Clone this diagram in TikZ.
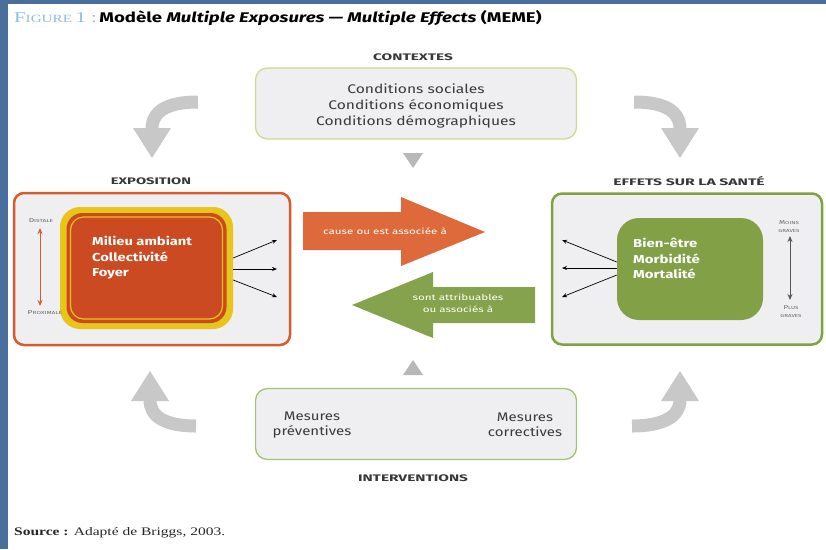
\documentclass[tikz,border=0pt]{standalone}
\usepackage{fontspec}
\usepackage{graphicx}
\setmainfont{Fira Sans}
\newfontfamily\seriffont{Liberation Serif}
\usetikzlibrary{arrows.meta}
\newcommand\hsc[2]{\scalebox{#1}[1]{#2}}
\definecolor{blueb}{HTML}{4A6F9C}
\definecolor{boxfill}{HTML}{EFEFF1}
\definecolor{orangeb}{HTML}{D95A2B}
\definecolor{yellowb}{HTML}{E8C51A}
\definecolor{redfill}{HTML}{CC4A22}
\definecolor{orangearr}{HTML}{DE6A3C}
\definecolor{greenarr}{HTML}{85A34C}
\definecolor{greenb}{HTML}{7FA242}
\definecolor{greenin}{HTML}{82A147}
\definecolor{ctxb}{HTML}{CCDC90}
\definecolor{intb}{HTML}{A3C27A}
\definecolor{grayarr}{HTML}{C8C8C8}
\definecolor{txtgray}{HTML}{3A3A3A}
\definecolor{tri}{HTML}{B8B8B8}
\definecolor{figblue}{HTML}{8DBFE0}
\definecolor{darkarr}{HTML}{555555}
\tikzset{
  label/.style={font=\bfseries\fontsize{9.5}{10}\selectfont, text=black!78, inner sep=0pt},
  topbox/.style={draw, line width=1.3pt, fill=boxfill, rounded corners=12pt, minimum width=321pt, minimum height=71pt, inner sep=0pt},
  boxtext/.style={font=\fontsize{12.5}{16}\selectfont, text=txtgray, align=center, inner sep=0pt},
  outerbox/.style={draw, line width=2.5pt, fill=boxfill, rounded corners=10pt, inner sep=0pt},
  whitetxt/.style={font=\bfseries\fontsize{11.5}{15.5}\selectfont, text=white, align=left, inner sep=0pt},
  arrtxt/.style={font=\fontsize{8.3}{12}\selectfont, text=white, align=center, inner sep=0pt},
  tiny/.style={font=\fontsize{5.6}{8}\selectfont, text=black!60, align=center, inner sep=0pt},
  blk/.style={-{Stealth[length=5pt,width=4pt]}, line width=0.7pt, black},
  curv/.style={grayarr, line width=13pt},
}
\newcommand\smallc{\fontsize{4.4}{8}\selectfont}
\begin{document}
\begin{tikzpicture}[x=1pt,y=-1pt]
\useasboundingbox (0,0) rectangle (826,549);
\fill[white] (0,0) rectangle (826,549);
\fill[blueb] (0,0) rectangle (826,3.5);
\fill[blueb] (0,0) rectangle (8,549);

% title
\node[anchor=west, inner sep=0pt] (title) at (14,18)
  {\hsc{1.38}{\seriffont\color{figblue}{\fontsize{15}{15}\selectfont F}{\fontsize{11}{11}\selectfont IGURE} {\fontsize{15}{15}\selectfont 1 :}}\ %
   \hsc{1.33}{\bfseries\fontsize{14}{14}\selectfont Modèle \textit{Multiple Exposures — Multiple Effects} (MEME)}};

% contextes
\node[label] (lctx) at (413,57) {\hsc{1.62}{CONTEXTES}};
\node[topbox, draw=ctxb] (ctx) at (416,103.5) {};
\node[boxtext] (ctxt) at (416,106) {\hsc{1.25}{Conditions sociales}\\\hsc{1.25}{Conditions économiques}\\\hsc{1.25}{Conditions démographiques}};
\fill[tri] (403,153) -- (423,153) -- (413,168) -- cycle;

% interventions
\fill[tri] (403,375) -- (423,375) -- (413,360) -- cycle;
\node[topbox, draw=intb] (inter) at (416,424) {};
\node[boxtext, font=\fontsize{12.5}{15}\selectfont] (prev) at (312,425) {\hsc{1.2}{Mesures}\\\hsc{1.2}{préventives}};
\node[boxtext, font=\fontsize{12.5}{15}\selectfont] (corr) at (525,425) {\hsc{1.2}{Mesures}\\\hsc{1.2}{correctives}};
\node[label] (lint) at (413,478) {\hsc{1.62}{INTERVENTIONS}};

% curved gray arrows
\draw[curv] (198,102) .. controls (166,102) and (152,112) .. (152,129);
\fill[grayarr] (133,128) -- (171,128) -- (152,158) -- cycle;
\draw[curv] (634,102) .. controls (666,102) and (680,112) .. (680,129);
\fill[grayarr] (661,128) -- (699,128) -- (680,158) -- cycle;
\draw[curv] (196,426) .. controls (164,426) and (150,416) .. (150,400);
\fill[grayarr] (131,401) -- (169,401) -- (150,371) -- cycle;
\draw[curv] (632,426) .. controls (664,426) and (680,416) .. (680,400);
\fill[grayarr] (661,401) -- (699,401) -- (680,371) -- cycle;

% exposition
\node[label] (lexp) at (151,181) {\hsc{1.55}{EXPOSITION}};
\node[outerbox, draw=orangeb, minimum width=276pt, minimum height=152pt] (expo) at (152,269) {};
\node[fill=yellowb, rounded corners=20pt, minimum width=173pt, minimum height=122pt, inner sep=0pt] (yel) at (146.5,268) {};
\node[fill=redfill, rounded corners=16pt, minimum width=160pt, minimum height=110pt, inner sep=0pt] (redr) at (146.5,268) {};
\node[draw=yellowb, line width=1.2pt, rounded corners=13pt, minimum width=152pt, minimum height=102pt, inner sep=0pt] (redin) at (146.5,268) {};
\node[whitetxt, anchor=north west] (milieu) at (92,236) {\hsc{1.28}{Milieu ambiant}\\\hsc{1.28}{Collectivité}\\\hsc{1.28}{Foyer}};
\node[tiny] (dist) at (41,221) {\hsc{1.5}{D\smallc ISTALE}};
\node[tiny] (prox) at (45,313) {\hsc{1.5}{P\smallc ROXIMALE}};
\coordinate (dtop) at (40,228);
\coordinate (dbot) at (40,306);
\draw[orangeb, line width=1pt, {Stealth[length=6pt,width=5pt]}-{Stealth[length=6pt,width=5pt]}] (dtop) -- (dbot);
\coordinate (e1) at (277,240);
\coordinate (e2) at (277,269);
\coordinate (e3) at (277,297);
\draw[blk] ([yshift=10pt]yel.east) -- (e1);
\draw[blk] ([yshift=-1pt]yel.east) -- (e2);
\draw[blk] ([yshift=-12pt]yel.east) -- (e3);

% big arrows
\fill[orangearr] (303,212) -- (401,212) -- (401,197) -- (485,232) -- (401,266) -- (401,250) -- (303,250) -- cycle;
\node[arrtxt] (cause) at (385,231) {\hsc{1.4}{cause ou est associée à}};
\fill[greenarr] (535,287) -- (433,287) -- (433,272) -- (352,305) -- (433,338) -- (433,323) -- (535,323) -- cycle;
\node[arrtxt] (attr) at (458,303) {\hsc{1.4}{sont attribuables}\\\hsc{1.4}{ou associés à}};

% effets
\node[label] (leff) at (689,181) {\hsc{1.65}{EFFETS SUR LA SANTÉ}};
\node[outerbox, draw=greenb, minimum width=270pt, minimum height=151pt] (eff) at (687,269) {};
\node[fill=greenin, rounded corners=22pt, minimum width=146pt, minimum height=102pt, inner sep=0pt] (grn) at (690,269) {};
\node[whitetxt, anchor=north west] (bien) at (633,238) {\hsc{1.3}{Bien-être}\\\hsc{1.3}{Morbidité}\\\hsc{1.3}{Mortalité}};
\coordinate (f1) at (562,240);
\coordinate (f2) at (562,268);
\coordinate (f3) at (562,297);
\draw[blk] ([yshift=7pt]grn.west) -- (f1);
\draw[blk] ([yshift=1pt]grn.west) -- (f2);
\draw[blk] ([yshift=-6pt]grn.west) -- (f3);
\node[tiny] (moins) at (789,227) {\hsc{1.4}{M\smallc OINS}\\\hsc{1.4}{\smallc GRAVES}};
\node[tiny] (plus) at (791,312) {\hsc{1.4}{P\smallc LUS}\\\hsc{1.4}{\smallc GRAVES}};
\coordinate (gtop) at (790,236);
\coordinate (gbot) at (790,300);
\draw[darkarr, line width=1pt, {Stealth[length=6pt,width=5pt]}-{Stealth[length=6pt,width=5pt]}] (gtop) -- (gbot);

% source
\node[anchor=west, inner sep=0pt, font=\seriffont\fontsize{11.5}{12}\selectfont, text=black!85] (src) at (14,533) {\hsc{1.35}{\textbf{Source :} Adapté de Briggs, 2003.}};
\end{tikzpicture}
\end{document}
